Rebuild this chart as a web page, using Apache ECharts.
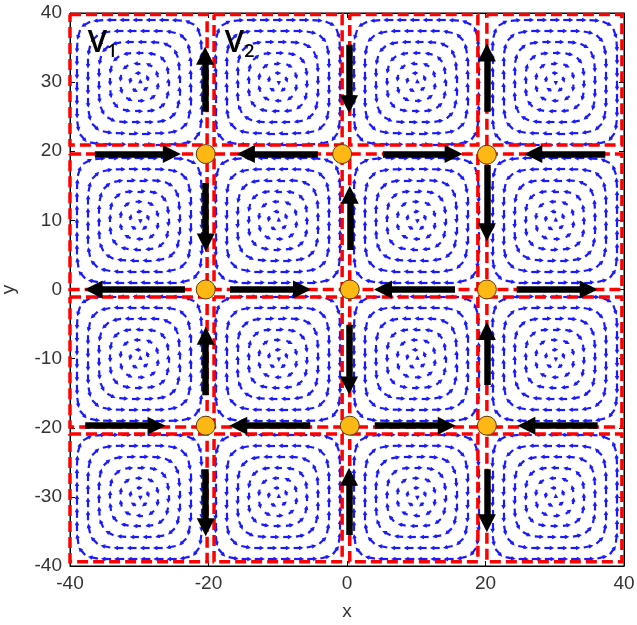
<!DOCTYPE html>
<html><head><meta charset="utf-8">
<script src="https://cdn.jsdelivr.net/npm/echarts@6/dist/echarts.min.js"></script>
<style>html,body{margin:0;padding:0;background:#fff}#c{width:637px;height:625px}</style>
</head><body><div id="c"></div>
<script>
// ---------- data ----------
const xTickStep = 20;
const yTickStep = 10;
const cellCenterX = [-30, -10, 10, 30];
const cellCenterY = [30, 10, -10, -30];
// +1 = counter-clockwise, -1 = clockwise (rows top to bottom)
const cellSpin = [[1, -1, 1, -1], [-1, 1, -1, 1], [1, -1, 1, -1], [-1, 1, -1, 1]];
const ringRadius = [0.15, 1.3, 2.7, 4.2, 5.8, 7.4, 9.0];
const ringSquareness = [2.0, 2.2, 2.6, 3.1, 3.8, 4.8, 6.5];
const ringArrowLen = [0.3, 0.55, 0.7, 0.85, 1.0, 1.1, 1.15];
const ringSpacing = [5.0, 1.6, 1.75, 1.8, 1.85, 1.9, 1.9];
// dashed cell boxes
const rectCols = [[-40, -20.2], [-19.2, -0.7], [0.4, 18.9], [20.2, 39.7]];
const rectRows = [[39.8, 20.9], [19.6, 0], [-1.1, -19.9], [-20.9, -39.4]];
// thick black flow arrows: [xTail, yTail, xHead, yHead]
const flowArrows = [
  [-20.5, 25.7, -20.5, 33.8], [0.3, 35.4, 0.3, 26.8], [20.2, 25.7, 20.2, 34.3],
  [-20.4, 15.4, -20.4, 6.8], [0.4, 5.7, 0.4, 13.7], [20.2, 18.0, 20.2, 8.3],
  [-20.4, -15.3, -20.4, -6.7], [0.3, -5.1, 0.3, -13.9], [20.2, -13.8, 20.2, -6.0],
  [-20.4, -26.0, -20.4, -34.4], [0.3, -35.5, 0.3, -27.1], [20.2, -26.0, 20.2, -33.8],
  [-36.4, 19.6, -25.3, 19.6], [-4.2, 19.6, -14.6, 19.6], [5.2, 19.6, 15.4, 19.6], [37.3, 19.6, 26.9, 19.6],
  [-23.4, 0, -36.6, 0], [-16.9, 0, -6.5, 0], [15.6, 0, 5.2, 0], [24.5, 0, 34.9, 0],
  [-37.8, -19.7, -27.5, -19.7], [-5.3, -19.7, -15.7, -19.7], [4.0, -19.7, 14.4, -19.7], [36.2, -19.7, 25.9, -19.7]
];
const stagnationX = [-20.4, -0.7, 20.2, -20.4, 0.4, 20.2, -20.4, 0.4, 20.2];
const stagnationY = [19.6, 19.6, 19.5, 0, 0, 0, -19.7, -19.7, -19.7];
const vortexLabels = [['V', '1', -35.3, 35.6], ['V', '2', -15.5, 35.6]];

// ---------- build marks ----------
function ringSamples(r, n) {
  const pts = [];
  const N = 720;
  for (let i = 0; i <= N; i++) {
    const t = i / N * 2 * Math.PI;
    const c = Math.cos(t), s = Math.sin(t);
    pts.push([r * Math.sign(c) * Math.pow(Math.abs(c), 2 / n), r * Math.sign(s) * Math.pow(Math.abs(s), 2 / n)]);
  }
  return pts;
}
const blueArrows = [];
for (let row = 0; row < 4; row++) {
  for (let col = 0; col < 4; col++) {
    const cx = cellCenterX[col], cy = cellCenterY[row], sp = cellSpin[row][col];
    for (let k = 0; k < ringRadius.length; k++) {
      const pts = ringSamples(ringRadius[k], ringSquareness[k]);
      const cum = [0];
      for (let i = 1; i < pts.length; i++) {
        cum.push(cum[i - 1] + Math.hypot(pts[i][0] - pts[i - 1][0], pts[i][1] - pts[i - 1][1]));
      }
      const total = cum[cum.length - 1];
      const count = Math.max(1, Math.round(total / ringSpacing[k]));
      const L = ringArrowLen[k];
      for (let a = 0; a < count; a++) {
        const target = ((a + 0.3 * k) / count) * total % total;
        let j = 1;
        while (j < cum.length - 1 && cum[j] < target) j++;
        const p0 = pts[j - 1], p1 = pts[j];
        const f = (target - cum[j - 1]) / (cum[j] - cum[j - 1] || 1);
        const px = p0[0] + (p1[0] - p0[0]) * f, py = p0[1] + (p1[1] - p0[1]) * f;
        let dx = p1[0] - p0[0], dy = p1[1] - p0[1];
        const dl = Math.hypot(dx, dy) || 1;
        dx = dx / dl * sp; dy = dy / dl * sp;
        blueArrows.push({coords: [[cx + px - dx * L / 2, cy + py - dy * L / 2], [cx + px + dx * L / 2, cy + py + dy * L / 2]]});
      }
    }
  }
}
const rects = [];
for (let r = 0; r < 4; r++) {
  for (let c = 0; c < 4; c++) {
    const [x0, x1] = rectCols[c], [y0, y1] = rectRows[r];
    rects.push({coords: [[x0, y0], [x1, y0], [x1, y1], [x0, y1], [x0, y0]]});
  }
}
const blackArrows = flowArrows.map(a => ({coords: [[a[0], a[1]], [a[2], a[3]]]}));
const circles = stagnationX.map((x, i) => [x, stagnationY[i]]);

const labelFont = 'Liberation Sans';
const chart = echarts.init(document.getElementById('c'), null, {renderer: 'canvas'});
chart.setOption({
  animation: false,
  backgroundColor: '#fff',
  grid: {left: 70, right: 13, top: 13, bottom: 59, containLabel: false, outerBoundsMode: 'none',
         show: true, borderColor: '#000', borderWidth: 1, backgroundColor: '#fff'},
  xAxis: [{
    type: 'value', min: -40, max: 40, interval: xTickStep, name: 'x', nameLocation: 'middle', nameGap: 36,
    nameTextStyle: {fontFamily: labelFont, fontSize: 19, color: '#333'},
    axisLine: {onZero: false, lineStyle: {color: '#000'}},
    axisTick: {inside: true, length: 5, lineStyle: {color: '#000'}},
    axisLabel: {fontFamily: labelFont, fontSize: 19, color: '#333', margin: 8},
    splitLine: {show: false}
  }, {
    type: 'value', min: -40, max: 40, interval: xTickStep, position: 'top',
    axisLine: {onZero: false, lineStyle: {color: '#000'}},
    axisTick: {inside: true, length: 5, lineStyle: {color: '#000'}},
    axisLabel: {show: false}, splitLine: {show: false}
  }],
  yAxis: [{
    type: 'value', min: -40, max: 40, interval: yTickStep, name: 'y', nameLocation: 'middle', nameGap: 52,
    nameTextStyle: {fontFamily: labelFont, fontSize: 19, color: '#333'},
    axisLine: {onZero: false, lineStyle: {color: '#000'}},
    axisTick: {inside: true, length: 5, lineStyle: {color: '#000'}},
    axisLabel: {fontFamily: labelFont, fontSize: 19, color: '#333', margin: 8},
    splitLine: {show: false}
  }, {
    type: 'value', min: -40, max: 40, interval: yTickStep, position: 'right',
    axisLine: {onZero: false, lineStyle: {color: '#000'}},
    axisTick: {inside: true, length: 5, lineStyle: {color: '#000'}},
    axisLabel: {show: false}, splitLine: {show: false}
  }],
  series: [
    {
      type: 'lines', coordinateSystem: 'cartesian2d', xAxisIndex: 0, yAxisIndex: 0, z: 2,
      symbol: ['none', 'triangle'], symbolSize: 4.5,
      lineStyle: {color: '#1a1aff', width: 2.2, opacity: 1},
      data: blueArrows, silent: true
    },
    {
      type: 'lines', coordinateSystem: 'cartesian2d', polyline: true, z: 3,
      symbol: 'none',
      lineStyle: {color: '#ff0000', width: 3.5, type: [11, 5], opacity: 1},
      data: rects, silent: true
    },
    {
      type: 'lines', coordinateSystem: 'cartesian2d', z: 4,
      symbol: ['none', 'triangle'], symbolSize: 18,
      lineStyle: {color: '#000', width: 6.5, opacity: 1},
      itemStyle: {color: '#000'},
      data: blackArrows, silent: true
    },
    {
      type: 'scatter', z: 5, symbol: 'circle', symbolSize: 19,
      itemStyle: {color: '#FDB813', borderColor: '#5a3c0a', borderWidth: 1, opacity: 1},
      data: circles, silent: true
    },
    {
      type: 'scatter', z: 6, symbolSize: 1, itemStyle: {color: '#000', opacity: 1},
      data: vortexLabels.map(v => [v[2], v[3]]),
      label: {
        show: true, position: 'inside', color: '#000', opacity: 1, textBorderWidth: 0, textBorderColor: 'transparent',
        formatter: p => '{v|' + vortexLabels[p.dataIndex][0] + '}{s|' + vortexLabels[p.dataIndex][1] + '}',
        rich: {
          v: {fontFamily: 'Open Sans', fontWeight: 600, fontSize: 31, color: '#000', textBorderWidth: 0, textBorderColor: 'transparent'},
          s: {fontFamily: 'Open Sans', fontWeight: 600, fontSize: 18, color: '#000', textBorderWidth: 0, textBorderColor: 'transparent', padding: [16, 0, 0, 0]}
        }
      },
      silent: true
    }
  ]
});
</script></body></html>
